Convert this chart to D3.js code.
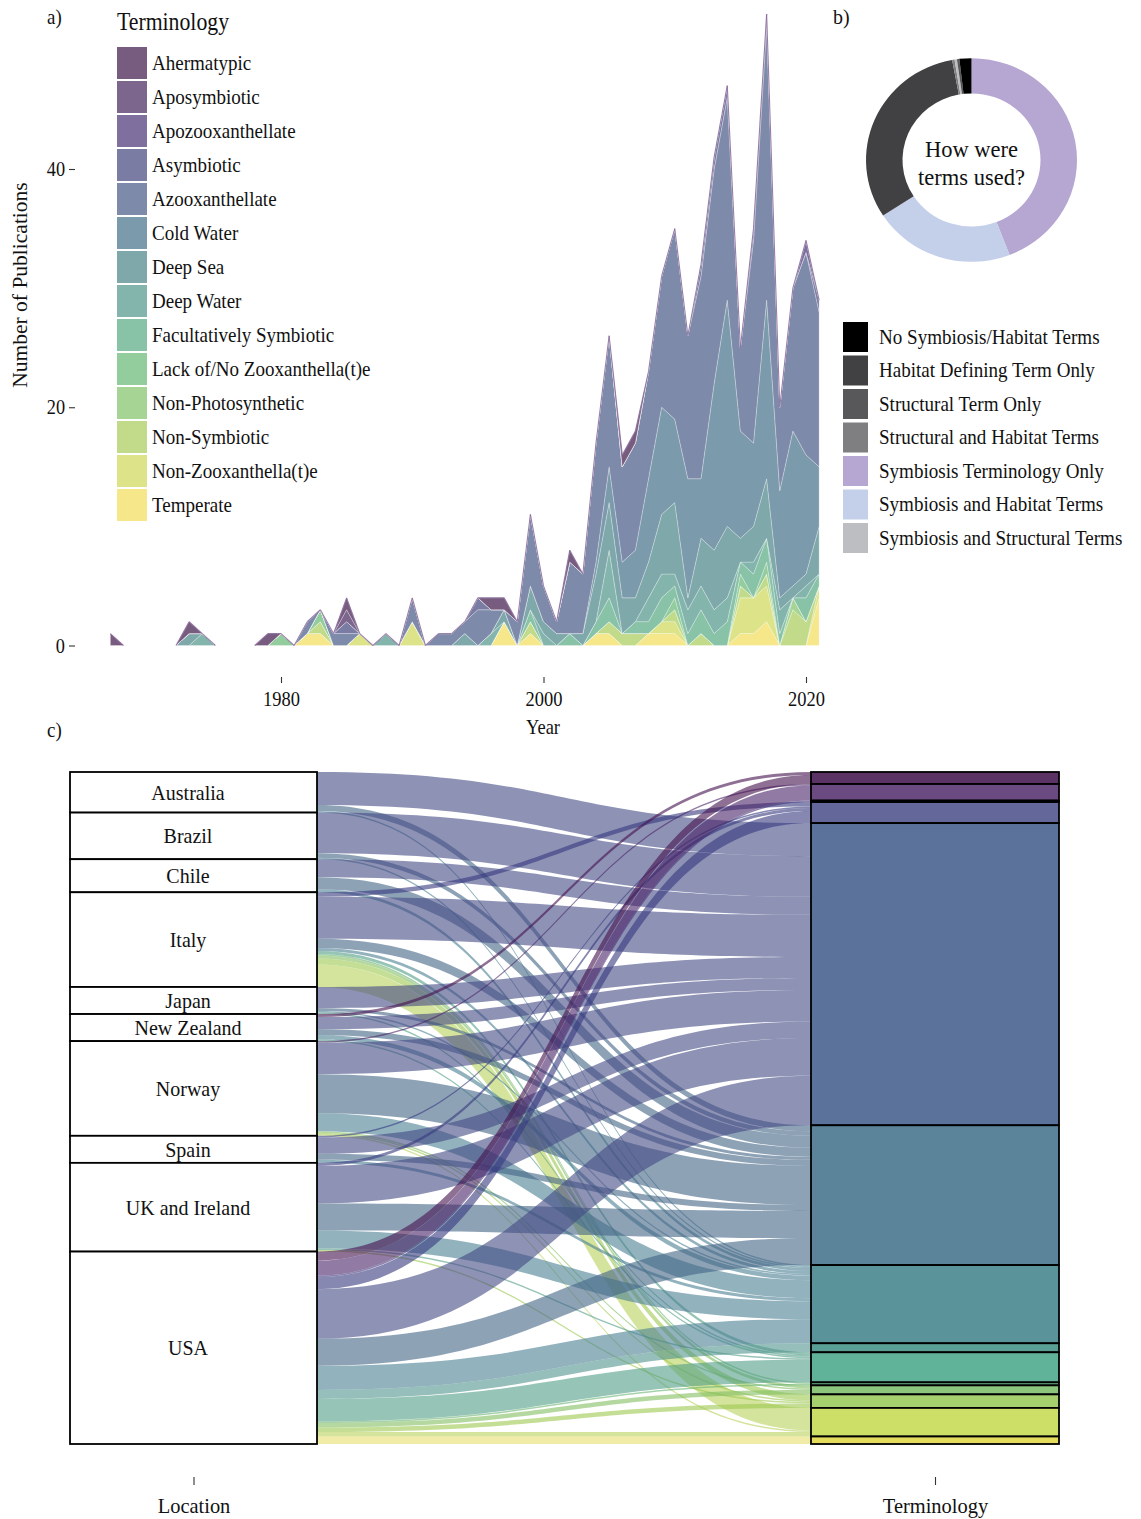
<!DOCTYPE html>
<html>
<head>
<meta charset="utf-8">
<script src="https://cdn.jsdelivr.net/npm/d3@7"></script>
<style>
  html, body { margin: 0; padding: 0; background: #ffffff; }
  svg text { font-family: "Liberation Serif", "Times New Roman", Times, serif; fill: #111; }
</style>
</head>
<body>
<svg id="fig" width="1141" height="1519" xmlns="http://www.w3.org/2000/svg"></svg>
<script>
// ---------------- data ----------------
const terms = [
  "Ahermatypic", "Aposymbiotic", "Apozooxanthellate", "Asymbiotic", "Azooxanthellate",
  "Cold Water", "Deep Sea", "Deep Water", "Facultatively Symbiotic",
  "Lack of/No Zooxanthella(t)e", "Non-Photosynthetic", "Non-Symbiotic",
  "Non-Zooxanthella(t)e", "Temperate"
];

// publication years 1967 - 2021
const years = d3.range(1967, 2022);

// publications per year using each term (1967 ... 2021)
const ahermatypic = [
  1,0,0,0,0,0,1,0,0,0, 0,0,1,0,0,0,0,0,1,0, 0,0,0,0,0,0,0,0,0,1,
  1,0,0,0,0,1,0,0,0,1, 1,0,0,0,0,0,0,0,0,0, 0,0,0,0,0];
const aposymbiotic = [
  0,0,0,0,0,0,0,0,0,0, 0,0,0,0,0,0,0,0,1,0, 0,0,0,0,0,0,0,0,0,0,
  0,0,0,0,0,0,0,0,0,0, 0,0,0,0,0,0,0,0,0,0, 0,0,0,0,0];
const apozooxanthellate = [
  0,0,0,0,0,0,0,0,0,0, 0,0,0,0,0,0,0,0,0,0, 0,0,0,0,0,0,0,0,0,0,
  0,0,0,0,0,0,0,0,0,0, 0,0,0,0,0,0,0,0,0,0, 0,0,0,1,0];
const asymbiotic = [
  0,0,0,0,0,0,0,0,0,0, 0,0,0,0,0,0,0,0,1,0, 0,0,0,0,0,0,0,0,1,0,
  0,0,0,0,0,0,0,0,0,0, 0,0,0,0,0,1,1,1,0,1, 1,0,0,0,1];
const azooxanthellate = [
  0,0,0,0,0,0,0,0,0,0, 0,0,0,0,0,1,0,1,1,0, 0,0,0,2,0,1,1,1,3,2,
  0,2,6,3,1,6,5,10,11,8, 9,9,11,16,12,17,18,17,7,17, 23,7,12,17,13];
const coldWater = [
  0,0,0,0,0,0,0,0,0,0, 0,0,0,0,0,0,0,0,0,0, 0,0,0,0,0,0,0,0,0,0,
  0,0,0,0,0,0,0,1,3,3, 4,7,9,7,10,5,14,19,9,7, 15,9,13,10,5];
const deepSea = [
  0,0,0,0,0,0,1,0,0,0, 0,0,0,0,0,0,0,0,0,0, 0,0,0,0,0,0,0,1,0,0,
  1,0,2,1,1,0,1,4,4,3, 2,3,5,6,1,4,5,6,2,3, 5,1,1,1,4];
const deepWater = [
  0,0,0,0,0,0,0,1,0,0, 0,0,0,0,0,0,0,0,0,0, 0,1,0,0,0,0,0,0,0,1,
  0,0,0,1,0,0,0,0,4,0, 0,2,2,1,2,2,2,2,0,1, 0,2,0,1,0];
const facultativelySymbiotic = [
  0,0,0,0,0,0,0,0,0,0, 0,0,0,0,0,0,0,0,0,0, 0,0,0,0,0,0,0,0,0,0,
  0,0,1,0,0,1,0,1,2,0, 1,1,2,1,1,2,1,2,1,2, 2,1,0,2,1];
const lackOfZooxanthellae = [
  0,0,0,0,0,0,0,0,0,0, 0,0,0,1,0,0,1,0,0,0, 0,0,0,0,0,0,0,0,0,0,
  0,0,0,0,0,0,0,0,0,0, 0,0,0,1,0,0,0,0,1,0, 1,0,0,0,0];
const nonPhotosynthetic = [
  0,0,0,0,0,0,0,0,0,0, 0,0,0,0,0,0,0,0,0,0, 0,0,0,0,0,0,0,0,0,0,
  0,0,0,0,0,0,0,0,0,0, 0,0,0,0,0,0,0,0,0,0, 0,0,1,0,0];
const nonSymbiotic = [
  0,0,0,0,0,0,0,0,0,0, 0,0,0,0,0,0,1,0,0,0, 0,0,0,0,0,0,0,0,0,0,
  0,0,1,0,0,0,0,0,1,1, 1,0,0,1,0,1,0,0,1,0, 1,0,3,2,0];
const nonZooxanthellate = [
  0,0,0,0,0,0,0,0,0,0, 0,0,0,0,0,0,0,0,0,1, 0,0,0,2,0,0,0,0,0,0,
  0,0,0,0,0,0,0,0,0,0, 0,0,1,1,0,0,0,0,3,3, 3,0,0,0,1];
const temperate = [
  0,0,0,0,0,0,0,0,0,0, 0,0,0,0,0,1,1,0,0,0, 0,0,0,0,0,0,0,0,0,0,
  2,0,1,0,0,0,0,1,1,0, 0,1,1,1,0,0,0,0,1,1, 2,0,0,0,4];

const termSeries = [
  ahermatypic, aposymbiotic, apozooxanthellate, asymbiotic, azooxanthellate,
  coldWater, deepSea, deepWater, facultativelySymbiotic, lackOfZooxanthellae,
  nonPhotosynthetic, nonSymbiotic, nonZooxanthellate, temperate
];

const xTicks = [1980, 2000, 2020];
const yTicks = [0, 20, 40];

// how terms were used, number of publications per usage class
const usageClasses = [
  "No Symbiosis/Habitat Terms", "Habitat Defining Term Only", "Structural Term Only",
  "Structural and Habitat Terms", "Symbiosis Terminology Only",
  "Symbiosis and Habitat Terms", "Symbiosis and Structural Terms"
];
const usageCounts = [5, 85, 1, 1, 120, 59, 1];
// clockwise order of the ring, starting at twelve o'clock
const ringOrder = [
  "Symbiosis Terminology Only", "Symbiosis and Habitat Terms", "Habitat Defining Term Only",
  "Structural and Habitat Terms", "Symbiosis and Structural Terms", "Structural Term Only",
  "No Symbiosis/Habitat Terms"
];

// study locations and number of location-term records
const locations = [
  "Australia", "Brazil", "Chile", "Italy", "Japan", "New Zealand",
  "Norway", "Spain", "UK and Ireland", "USA"
];
// rows: locations, columns: terms (same order as `terms`)
const flowCounts = [
  [0,0,0,0,22, 4, 1,0, 0,0,0,0, 0,0],
  [0,0,0,0,27, 3, 1,0, 0,0,0,0, 0,0],
  [0,0,0,0,12, 8, 2,0, 0,0,0,0, 0,0],
  [0,0,0,3,28, 6, 2,0, 2,1,2,4,15,0],
  [0,0,0,0,14, 2, 1,0, 1,0,0,0, 0,0],
  [2,0,0,0, 8, 4, 3,0, 1,0,0,0, 0,0],
  [0,1,0,0,21,26,12,0, 0,0,1,1, 1,0],
  [0,0,0,1,11, 4, 2,0, 0,0,0,0, 0,0],
  [0,0,0,2,25,18,12,0, 1,0,0,1, 0,0],
  [6,10,1,8,33,18,16,6,15,1,3,3, 3,5]
];

// ---------------- colours ----------------
const areaColors = [
  "#785c7f", "#7d668e", "#7e6f9f", "#7b7ca3", "#7d8aa9", "#7b9aab", "#7fa8aa",
  "#84b5ac", "#88c2a7", "#93cc9d", "#a5d494", "#c1db8b", "#dce388", "#f5e78a"
];
const strataColors = [
  "#5a3364", "#6a4a80", "#66589a", "#63679a", "#5b739b", "#5b849b", "#5a9399",
  "#5a9f96", "#60b298", "#6fbd8a", "#8cc57c", "#a6cf6e", "#cddf66", "#e4dc5c"
];
const flowColors = [
  "#45104f", "#472266", "#3f3078", "#35387e", "#434984", "#436485", "#497f93",
  "#50938c", "#509d85", "#69b471", "#82be61", "#9dc850", "#b7d25a", "#e6df6e"
];
const usageColors = ["#000000", "#414143", "#58585a", "#7f7f81", "#b5a6d2", "#c4cfea", "#bdbec1"];

// ---------------- helpers ----------------
const svg = d3.select("#fig");

// text placed by its visual centre line; sx narrows glyphs horizontally
function label(parent, x, cy, str, size, anchor, sx) {
  const base = cy + size * 0.34;
  return parent.append("text")
    .attr("transform", `translate(${x},${base}) scale(${sx || 1},1)`)
    .attr("text-anchor", anchor || "start")
    .style("font-size", size + "px")
    .text(str);
}

// ================= a) stacked area =================
const gA = svg.append("g");
const xA = d3.scaleLinear().domain([1980, 2020]).range([281, 806]);
const yA = d3.scaleLinear().domain([0, 40]).range([645.5, 169]);

const rows = years.map((yr, i) => {
  const r = { year: yr };
  terms.forEach((t, j) => { r[t] = termSeries[j][i]; });
  return r;
});
const colorOf = d3.scaleOrdinal().domain(terms).range(areaColors);
const layers = d3.stack().keys(terms.slice().reverse())(rows);
const area = d3.area()
  .x(d => xA(d.data.year))
  .y0(d => yA(d[0]))
  .y1(d => yA(d[1]));

gA.append("g").selectAll("path").data(layers).join("path")
  .attr("d", area)
  .attr("fill", d => colorOf(d.key))
  .attr("stroke", "#ffffff")
  .attr("stroke-opacity", 0.45)
  .attr("stroke-width", 0.6);

// upper outline of the stack where there are publications
const totals = rows.map(r => ({ year: r.year, total: d3.sum(terms, t => r[t]) }));
const segs = d3.pairs(totals).filter(([a, b]) => a.total > 0 || b.total > 0);
const topLine = d3.line().x(d => xA(d.year)).y(d => yA(d.total));
gA.append("g").selectAll("path").data(segs).join("path")
  .attr("d", d => topLine(d))
  .attr("fill", "none")
  .attr("stroke", "#86679a")
  .attr("stroke-width", 1.1)
  .attr("stroke-opacity", 0.85);

// axes
const yAxisG = gA.append("g").attr("transform", "translate(75,0)")
  .call(d3.axisLeft(yA).tickValues(yTicks).tickSize(6).tickPadding(4));
const xAxisG = gA.append("g").attr("transform", "translate(0,677)")
  .call(d3.axisBottom(xA).tickValues(xTicks).tickFormat(d3.format("d")).tickSize(6).tickPadding(8));
[yAxisG, xAxisG].forEach(g => {
  g.select(".domain").remove();
  g.selectAll(".tick line").attr("stroke", "#333").attr("stroke-width", 1.1);
  g.selectAll(".tick text").style("font-size", "21px").style("font-family", null).attr("fill", "#111");
});
yAxisG.selectAll(".tick text").attr("transform", "scale(0.87,1)").attr("x", -10 / 0.87);
xAxisG.selectAll(".tick text").attr("transform", "scale(0.88,1)");

label(gA, 543, 727, "Year", 21, "middle", 0.88);
gA.append("text")
  .attr("transform", "translate(27,285) rotate(-90)")
  .attr("text-anchor", "middle")
  .style("font-size", "21.5px")
  .text("Number of Publications");
label(gA, 47, 17, "a)", 21, "start", 0.9);

// legend
const legA = gA.append("g");
label(legA, 117, 21, "Terminology", 25, "start", 0.87);
terms.forEach((t, i) => {
  const cy = 63 + i * 34;
  legA.append("rect").attr("x", 117).attr("y", cy - 16).attr("width", 30).attr("height", 32)
    .attr("fill", areaColors[i]);
  label(legA, 152, cy, t, 22, "start", 0.865);
});

// ================= b) donut =================
const gB = svg.append("g");
label(gB, 833, 17, "b)", 21, "start", 0.95);
const usageMap = new Map(usageClasses.map((c, i) => [c, { count: usageCounts[i], color: usageColors[i] }]));
const pie = d3.pie().sort(null).value(d => usageMap.get(d).count).startAngle(0).endAngle(2 * Math.PI);
const arc = d3.arc().innerRadius(69).outerRadius(105.5);
const ring = gB.append("g").attr("transform", "translate(971.5,160) scale(1,0.965)");
ring.selectAll("path").data(pie(ringOrder)).join("path")
  .attr("d", arc)
  .attr("fill", d => usageMap.get(d.data).color);
label(gB, 971.5, 149, "How were", 22.5, "middle", 1);
label(gB, 971.5, 177, "terms used?", 22.5, "middle", 1);

usageClasses.forEach((c, i) => {
  const cy = 337 + i * 33.5;
  gB.append("rect").attr("x", 843).attr("y", cy - 15).attr("width", 25).attr("height", 30)
    .attr("fill", usageColors[i]);
  label(gB, 879, cy, c, 20.5, "start", 0.93);
});

// ================= c) alluvial =================
const gC = svg.append("g");
label(gC, 47, 730, "c)", 21, "start", 0.9);

const grand = d3.sum(flowCounts.flat());
const yC = d3.scaleLinear().domain([0, grand]).range([772, 1444]);
const xLeft = [70, 317], xRight = [811, 1059];

// lodes on the location side: stacked by term inside each location
const flows = [];
const locSpan = [];
let cum = 0;
locations.forEach((loc, i) => {
  const s = cum;
  terms.forEach((t, j) => {
    const n = flowCounts[i][j];
    if (n > 0) { flows.push({ i, j, n, l0: cum }); cum += n; }
  });
  locSpan.push([s, cum]);
});
// lodes on the terminology side: stacked by location inside each term
const termSpan = [];
let cumR = 0;
terms.forEach((t, j) => {
  const s = cumR;
  locations.forEach((loc, i) => {
    const f = flows.find(f => f.i === i && f.j === j);
    if (f) { f.r0 = cumR; cumR += f.n; }
  });
  termSpan.push([s, cumR]);
});

function ribbon(f) {
  const x0 = xLeft[1], x1 = xRight[0], xm = (x0 + x1) / 2;
  const a0 = yC(f.l0), b0 = yC(f.l0 + f.n), a1 = yC(f.r0), b1 = yC(f.r0 + f.n);
  return `M${x0},${a0}C${xm},${a0} ${xm},${a1} ${x1},${a1}` +
         `L${x1},${b1}C${xm},${b1} ${xm},${b0} ${x0},${b0}Z`;
}

gC.append("g").selectAll("path").data(flows).join("path")
  .attr("d", ribbon)
  .attr("fill", d => flowColors[d.j])
  .attr("fill-opacity", 0.6)
  .attr("stroke", "none");

// location strata
const locG = gC.append("g");
locG.selectAll("rect").data(locSpan).join("rect")
  .attr("x", xLeft[0]).attr("width", xLeft[1] - xLeft[0])
  .attr("y", d => yC(d[0])).attr("height", d => yC(d[1]) - yC(d[0]))
  .attr("fill", "#ffffff").attr("stroke", "#000").attr("stroke-width", 1.8);
locations.forEach((loc, i) => {
  const cy = (yC(locSpan[i][0]) + yC(locSpan[i][1])) / 2;
  label(locG, 188, cy, loc, 21.5, "middle", 0.93);
});

// terminology strata
gC.append("g").selectAll("rect").data(termSpan).join("rect")
  .attr("x", xRight[0]).attr("width", xRight[1] - xRight[0])
  .attr("y", d => yC(d[0])).attr("height", d => yC(d[1]) - yC(d[0]))
  .attr("fill", (d, j) => strataColors[j])
  .attr("stroke", "#000").attr("stroke-width", 1.8);

// axis under the two columns
const xC = d3.scalePoint().domain(["Location", "Terminology"])
  .range([(xLeft[0] + xLeft[1]) / 2, (xRight[0] + xRight[1]) / 2]);
const cAxis = gC.append("g").attr("transform", "translate(0,1477)")
  .call(d3.axisBottom(xC).tickSize(8).tickPadding(12));
cAxis.select(".domain").remove();
cAxis.selectAll(".tick line").attr("stroke", "#333").attr("stroke-width", 1.1);
cAxis.selectAll(".tick text").style("font-size", "22px").style("font-family", null)
  .attr("fill", "#111").attr("transform", "scale(0.93,1)");
</script>
</body>
</html>
